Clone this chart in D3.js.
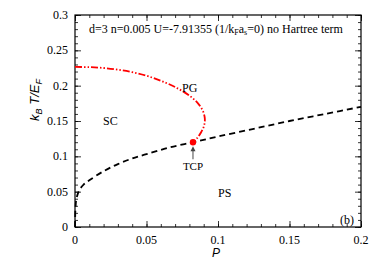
<!DOCTYPE html>
<head>
    <meta charset="utf-8">
    <script src="https://d3js.org/d3.v7.min.js"></script>
    <style>
        body { margin:0; background:#fff; }
        text { font-family: "Liberation Serif", "DejaVu Serif", serif; }
    </style>
</head>
<body>
    <svg id="svgelem" width="374" height="262"></svg>
    <script>
        // phase boundary PS / SC (black dashed)
        var psP  = [0, 0.0003, 0.001, 0.003, 0.006, 0.01, 0.02, 0.03, 0.04, 0.05, 0.065, 0.0825, 0.1, 0.125, 0.15, 0.175, 0.2];
        var psT  = [0, 0.025, 0.04, 0.052, 0.06, 0.066, 0.079, 0.089, 0.097, 0.103, 0.112, 0.12, 0.128, 0.139, 0.15, 0.16, 0.17];
        // pseudogap line (red dash-dot)
        var pgP  = [0, 0.01, 0.02, 0.03, 0.04, 0.05, 0.06, 0.07, 0.08, 0.086, 0.0895, 0.0908, 0.0902, 0.0882, 0.0855, 0.0825];
        var pgT  = [0.2265, 0.2262, 0.225, 0.2226, 0.219, 0.214, 0.207, 0.198, 0.186, 0.175, 0.164, 0.153, 0.143, 0.134, 0.126, 0.12];
        var tcp  = [0.0825, 0.12];
        var xTicks = [0, 0.05, 0.1, 0.15, 0.2];
        var yTicks = [0, 0.05, 0.1, 0.15, 0.2, 0.25, 0.3];

        // plot box (pixels)
        var pL = 75, pR = 361, pT = 15, pB = 227;
        var svg = d3.select("#svgelem");

        var x = d3.scaleLinear().domain([0, 0.2]).range([pL, pR]);
        var y = d3.scaleLinear().domain([0, 0.3]).range([pB, pT]);

        // minor ticks every 0.01, inward on all sides
        var minorX = d3.range(0, 0.2001, 0.01);
        var minorY = d3.range(0, 0.3001, 0.01);

        function tickAxis(axis, tv, size) {
            return axis.tickValues(tv).tickSize(size).tickFormat("");
        }
        svg.append("g").attr("transform", "translate(0," + pB + ")")
            .call(tickAxis(d3.axisTop(x), minorX, 3));
        svg.append("g").attr("transform", "translate(0," + pB + ")")
            .call(tickAxis(d3.axisTop(x), xTicks, 6));
        svg.append("g").attr("transform", "translate(0," + pT + ")")
            .call(tickAxis(d3.axisBottom(x), minorX, 3));
        svg.append("g").attr("transform", "translate(0," + pT + ")")
            .call(tickAxis(d3.axisBottom(x), xTicks, 6));
        svg.append("g").attr("transform", "translate(" + pL + ",0)")
            .call(tickAxis(d3.axisRight(y), minorY, 3));
        svg.append("g").attr("transform", "translate(" + pL + ",0)")
            .call(tickAxis(d3.axisRight(y), yTicks, 6));
        svg.append("g").attr("transform", "translate(" + pR + ",0)")
            .call(tickAxis(d3.axisLeft(y), minorY, 3));
        svg.append("g").attr("transform", "translate(" + pR + ",0)")
            .call(tickAxis(d3.axisLeft(y), yTicks, 6));
        svg.selectAll(".domain").remove();
        svg.selectAll(".tick line").attr("stroke", "#000").attr("stroke-width", 0.8);

        svg.append("rect")
            .attr("x", pL).attr("y", pT)
            .attr("width", pR - pL).attr("height", pB - pT)
            .attr("fill", "none").attr("stroke", "#000").attr("stroke-width", 1.2);

        // tick labels
        svg.selectAll(".xl").data(xTicks).enter().append("text")
            .attr("x", function(d) { return x(d); })
            .attr("y", 244)
            .attr("text-anchor", "middle")
            .attr("font-size", "12px")
            .text(function(d) { return d; });
        svg.selectAll(".yl").data(yTicks).enter().append("text")
            .attr("x", 68)
            .attr("y", function(d) { return y(d) + 4; })
            .attr("text-anchor", "end")
            .attr("font-size", "12px")
            .text(function(d) { return d; });

        // axis titles
        svg.append("text")
            .attr("x", 216).attr("y", 257)
            .attr("text-anchor", "middle")
            .style("font-family", "'Liberation Sans', Arial, sans-serif")
            .style("font-style", "italic")
            .attr("font-size", "12px")
            .text("P");
        var yl = svg.append("text")
            .attr("transform", "translate(39," + 100 + ") rotate(-90)")
            .attr("text-anchor", "middle")
            .style("font-family", "'Liberation Sans', Arial, sans-serif")
            .style("font-style", "italic")
            .attr("font-size", "13px");
        yl.append("tspan").text("k");
        yl.append("tspan").attr("font-size", "9px").attr("dy", 3).text("B");
        yl.append("tspan").attr("dy", -3).text(" T/E");
        yl.append("tspan").attr("font-size", "9px").attr("dy", 3).text("F");

        // curves
        var line = d3.line()
            .x(function(d) { return x(d[0]); })
            .y(function(d) { return y(d[1]); })
            .curve(d3.curveCatmullRom);

        svg.append("path")
            .datum(psP.map(function(p, i) { return [p, psT[i]]; }))
            .attr("d", line)
            .attr("fill", "none")
            .attr("stroke", "#000")
            .attr("stroke-width", 1.8)
            .attr("stroke-dasharray", "6,4");

        svg.append("path")
            .datum(pgP.map(function(p, i) { return [p, pgT[i]]; }))
            .attr("d", line)
            .attr("fill", "none")
            .attr("stroke", "#f00")
            .attr("stroke-width", 1.8)
            .attr("stroke-dasharray", "7,2,1.5,2,1.5,2");

        // TCP point and arrow
        svg.append("line")
            .attr("x1", x(tcp[0])).attr("y1", y(tcp[1]) + 17)
            .attr("x2", x(tcp[0])).attr("y2", y(tcp[1]) + 6)
            .attr("stroke", "#666").attr("stroke-width", 1.2);
        svg.append("path")
            .attr("d", "M" + (x(tcp[0]) - 2.5) + "," + (y(tcp[1]) + 9) +
                  "L" + x(tcp[0]) + "," + (y(tcp[1]) + 4) +
                  "L" + (x(tcp[0]) + 2.5) + "," + (y(tcp[1]) + 9) + "Z")
            .attr("fill", "#444");
        svg.append("circle")
            .attr("cx", x(tcp[0])).attr("cy", y(tcp[1]))
            .attr("r", 3.2).attr("fill", "#f00");

        // labels
        function label(tx, ty, s, anchor) {
            return svg.append("text").attr("x", tx).attr("y", ty)
                .attr("font-size", "12px")
                .attr("text-anchor", anchor || "start").text(s);
        }
        label(x(tcp[0]), 170, "TCP", "middle").attr("font-size", "11px");
        label(182, 92, "PG");
        label(103, 125, "SC");
        label(218, 197, "PS");
        label(340, 224, "(b)");

        var t = svg.append("text").attr("x", 89).attr("y", 33).attr("font-size", "12px");
        t.append("tspan").text("d=3 n=0.005 U=-7.91355 (1/k");
        t.append("tspan").attr("font-size", "8px").attr("dy", 2).text("F");
        t.append("tspan").attr("dy", -2).text("a");
        t.append("tspan").attr("font-size", "8px").attr("dy", 2).text("s");
        t.append("tspan").attr("dy", -2).text("=0) no Hartree term");
    </script>
</body>
